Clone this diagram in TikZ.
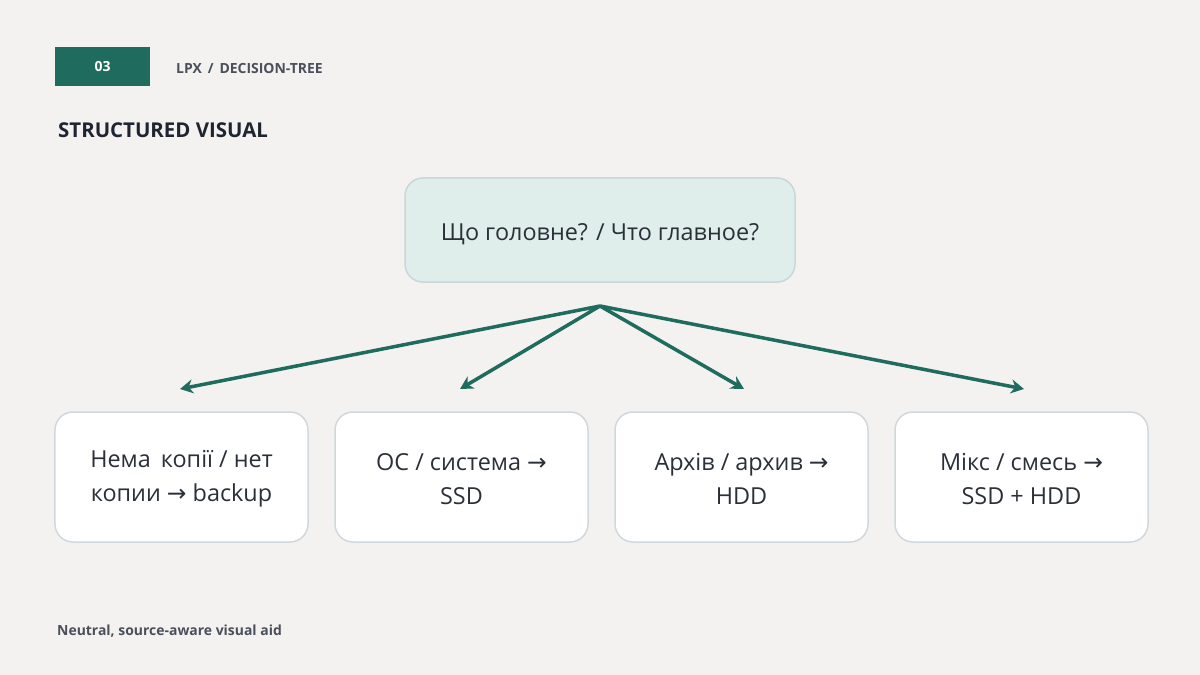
\documentclass[tikz,border=0pt]{standalone}
\usepackage{fontspec}
\setmainfont{Open Sans}
\newfontfamily\djv{DejaVu Sans}
\newcommand{\rarr}{{\djv →}}
\definecolor{bg}{HTML}{F3F2F0}
\definecolor{teal}{HTML}{1F6B5E}
\definecolor{hdr}{HTML}{4A4F5A}
\definecolor{ttl}{HTML}{1F2530}
\definecolor{topfill}{HTML}{DFEEEA}
\definecolor{topbd}{HTML}{C9D6DA}
\definecolor{boxbd}{HTML}{D0D8DE}
\definecolor{txt}{HTML}{2A2F38}
\usetikzlibrary{arrows.meta}
\begin{document}
\begin{tikzpicture}[x=1bp,y=-1bp,
  leaf/.style={draw=boxbd,line width=1.5bp,fill=white,rounded corners=18bp,minimum width=253bp,minimum height=130bp,align=center,font=\fontsize{23.5}{34}\selectfont,text=txt},
  arr/.style={draw=teal,line width=3.5bp,-{Stealth[length=13bp,width=14bp]}}]
\fill[bg] (0,0) rectangle (1200,675);
\useasboundingbox (0,0) rectangle (1200,675);
\node[fill=teal,minimum width=95bp,minimum height=39bp,inner sep=0,text=white,font=\bfseries\fontsize{14}{16}\selectfont] (num) at (102.5,66.5) {03};
\node[anchor=west,text=hdr,font=\bfseries\fontsize{14}{16}\selectfont,inner sep=0] (hd) at (176,69) {LPX\, / \,DECISION-TREE};
\node[anchor=west,text=ttl,font=\bfseries\fontsize{20.5}{24}\selectfont,inner sep=0] (tt) at (58,130) {STRUCTURED VISUAL};
\node[draw=topbd,line width=1.5bp,fill=topfill,rounded corners=18bp,minimum width=390bp,minimum height=104bp] (top) at (600,230) {};
\node[text=txt,font=\fontsize{23.5}{28}\selectfont] (toptext) at (600,234) {Що головне? / Что главное?};
\coordinate (hub) at (600,306);
\node[leaf] (a) at (181.5,477) {};
\node[leaf] (b) at (461.5,477) {};
\node[leaf] (c) at (741.5,477) {};
\node[leaf] (d) at (1021.5,477) {};
\tikzset{lt/.style={align=center,font=\fontsize{23.5}{34}\selectfont,text=txt}}
\node[lt] (ta) at (181.5,479) {Нема\, копії / нет\\копии \rarr\ backup};
\node[lt] (tb) at (461.5,479) {ОС / система \rarr\\SSD};
\node[lt] (tc) at (741.5,479) {Архів / архив \rarr\\HDD};
\node[lt] (td) at (1021.5,479) {Мікс / смесь \rarr\\SSD + HDD};
\coordinate (ea) at (180,389);
\coordinate (eb) at (460,389);
\coordinate (ec) at (744,389);
\coordinate (ed) at (1024,389);
\draw[arr] (hub) -- (ea);
\draw[arr] (hub) -- (eb);
\draw[arr] (hub) -- (ec);
\draw[arr] (hub) -- (ed);
\node[anchor=west,text=hdr,font=\bfseries\fontsize{14}{16}\selectfont,inner sep=0] (ft) at (57,631) {Neutral, source-aware visual aid};
\end{tikzpicture}
\end{document}
